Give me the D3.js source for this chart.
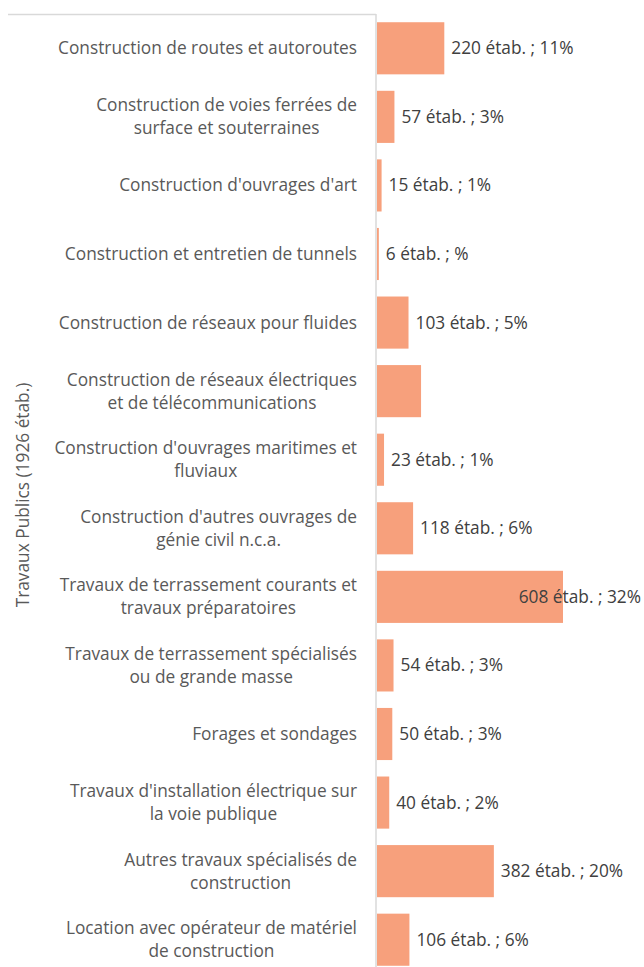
<!DOCTYPE html>
<html><head><meta charset="utf-8">
<script src="https://cdn.jsdelivr.net/npm/d3@7"></script>
<style>body{margin:0;background:#fff}svg{display:block}text{font-family:"Open Sans",sans-serif}</style>
</head><body>
<svg id="c" width="644" height="967"></svg>
<script>
const categories = [
  ["Construction de routes et autoroutes"],
  ["Construction de voies ferrées de","surface et souterraines"],
  ["Construction d'ouvrages d'art"],
  ["Construction et entretien de tunnels"],
  ["Construction de réseaux pour fluides"],
  ["Construction de réseaux électriques","et de télécommunications"],
  ["Construction d'ouvrages maritimes et","fluviaux"],
  ["Construction d'autres ouvrages de","génie civil n.c.a."],
  ["Travaux de terrassement courants et","travaux préparatoires"],
  ["Travaux de terrassement spécialisés","ou de grande masse"],
  ["Forages et sondages"],
  ["Travaux d'installation électrique sur","la voie publique"],
  ["Autres travaux spécialisés de","construction"],
  ["Location avec opérateur de matériel","de construction"]
];
const values = [220,57,15,6,103,144,23,118,608,54,50,40,382,106];
const valueLabels = ["220 étab. ; 11%","57 étab. ; 3%","15 étab. ; 1%","6 étab. ; %","103 étab. ; 5%","","23 étab. ; 1%","118 étab. ; 6%","608 étab. ; 32%","54 étab. ; 3%","50 étab. ; 3%","40 étab. ; 2%","382 étab. ; 20%","106 étab. ; 6%"];
const groupLabel = "Travaux Publics (1926 étab.)";

const FS = "17.3px";
const svg = d3.select("#c");
const x0 = 377;
const x = d3.scaleLinear().domain([0,608]).range([x0,563]);
const idx = d3.range(values.length);
const y = d3.scaleBand().domain(idx).range([14,974]).paddingInner(0.24).paddingOuter(0.12);

svg.append("line").attr("x1",8).attr("x2",x0-1).attr("y1",14.5).attr("y2",14.5).attr("stroke","#d9d9d9").attr("stroke-width",1.5);
svg.append("line").attr("x1",x0-1).attr("x2",x0-1).attr("y1",14).attr("y2",967).attr("stroke","#d9d9d9").attr("stroke-width",1.5);

svg.selectAll("rect.bar").data(idx).join("rect").attr("class","bar")
  .attr("x",x0).attr("y",i=>y(i)).attr("height",y.bandwidth())
  .attr("width",i=>x(values[i])-x0).attr("fill","#f7a07c");

const right = 357;
const cat = svg.selectAll("g.cat").data(idx).join("g").attr("class","cat");
cat.each(function(i){
  const lines = categories[i];
  const cy = y(i)+y.bandwidth()/2;
  const lh = 23;
  const g = d3.select(this);
  const ts = lines.map((l,k)=> g.append("text").attr("fill","#595959").style("font-size",FS)
      .attr("text-anchor","middle")
      .attr("y",cy + (k-(lines.length-1)/2)*lh).attr("dy","0.35em").text(l));
  const maxW = d3.max(ts, t=>t.node().getComputedTextLength());
  ts.forEach(t=>t.attr("x", right - maxW/2));
});

svg.selectAll("text.val").data(idx).join("text").attr("class","val")
  .attr("fill","#404040").style("font-size",FS)
  .attr("y",i=>y(i)+y.bandwidth()/2).attr("dy","0.35em")
  .text(i=>valueLabels[i])
  .each(function(i){
    const w = this.getComputedTextLength();
    let px = x(values[i])+7;
    if (px + w > 641) px = 641 - w;
    d3.select(this).attr("x",px);
  });

svg.append("text").attr("transform",`translate(29,495) rotate(-90)`)
  .attr("text-anchor","middle").attr("fill","#595959").style("font-size",FS).text(groupLabel);
</script>
</body></html>
